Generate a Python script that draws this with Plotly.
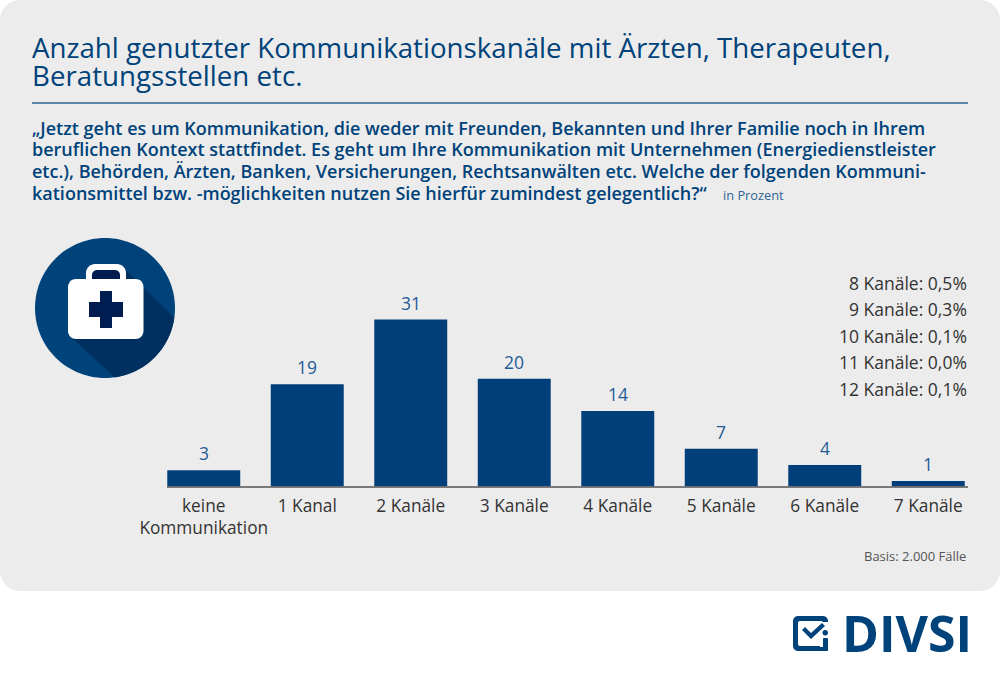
import numpy as np
import plotly.graph_objects as go

W = 1000
H = 674

categories = ["keine<br>Kommunikation", "1 Kanal", "2 Kanäle", "3 Kanäle",
              "4 Kanäle", "5 Kanäle", "6 Kanäle", "7 Kanäle"]
values = [3, 19, 31, 20, 14, 7, 4, 1]

title_lines = ["Anzahl genutzter Kommunikationskanäle mit Ärzten, Therapeuten,",
               "Beratungsstellen etc."]
question_lines = [
    "„Jetzt geht es um Kommunikation, die weder mit Freunden, Bekannten und Ihrer Familie noch in Ihrem",
    "beruflichen Kontext stattfindet. Es geht um Ihre Kommunikation mit Unternehmen (Energiedienstleister",
    "etc.), Behörden, Ärzten, Banken, Versicherungen, Rechtsanwälten etc. Welche der folgenden Kommuni-",
    "kationsmittel bzw. -möglichkeiten nutzen Sie hierfür zumindest gelegentlich?“",
]
side_labels = ["8 Kanäle: 0,5%", "9 Kanäle: 0,3%", "10 Kanäle: 0,1%",
               "11 Kanäle: 0,0%", "12 Kanäle: 0,1%"]

BLUE = "#00427a"
DARK = "#003060"
NAVY = "#001c50"
FONT = "Open Sans"


def px(x):
    return x / W


def py(y):
    return 1 - y / H


def poly(points):
    return "M " + " L ".join(f"{px(x):.5f},{py(y):.5f}" for x, y in points) + " Z"


def round_rect(x0, y0, x1, y1, r):
    pts = []
    for cx, cy, start in [(x1 - r, y0 + r, -90), (x1 - r, y1 - r, 0),
                          (x0 + r, y1 - r, 90), (x0 + r, y0 + r, 180)]:
        for a in np.radians(np.linspace(start, start + 90, 9)):
            pts.append((cx + r * np.cos(a), cy + r * np.sin(a)))
    return pts


def shape(points, color, layer="below"):
    return dict(type="path", xref="paper", yref="paper", path=poly(points),
                fillcolor=color, line_width=0, layer=layer)


def text(x, y, s, size, color=BLUE, anchor="left", weight=400):
    return dict(xref="paper", yref="paper", x=px(x), y=py(y), text=s, showarrow=False,
                xanchor=anchor, yanchor="middle", borderpad=0,
                font=dict(family=FONT, size=size, color=color, weight=weight))


# icon circle and shadow
cx, cy, rad = 105, 308, 70
angles = np.radians(np.linspace(0, 360, 121))
circle = [(cx + rad * np.cos(a), cy + rad * np.sin(a)) for a in angles]
arc = np.radians(np.linspace(8, 82, 40))
shadow = [(126, 270), (143, 287)] + [(cx + rad * np.cos(a), cy + rad * np.sin(a)) for a in arc] + [(72, 338)]

shapes = [
    shape(round_rect(0, 0, W, 591, 20), "#ececec"),
    dict(type="line", xref="paper", yref="paper", x0=px(32), x1=px(968), y0=py(103), y1=py(103),
         line=dict(color="#2f6496", width=1.5), layer="below"),
    dict(type="line", xref="paper", yref="paper", x0=px(167), x1=px(968), y0=py(487), y1=py(487),
         line=dict(color="#555555", width=1.5), layer="above"),
    shape(circle, BLUE),
    shape(shadow, DARK),
    shape(round_rect(86, 264, 126, 290, 9), "#ffffff"),
    shape(round_rect(92, 270, 120, 290, 5), NAVY),
    shape(round_rect(68, 279, 143.5, 339, 8), "#ffffff"),
    shape([(100, 291), (112, 291), (112, 302), (123, 302), (123, 317), (112, 317),
           (112, 328), (100, 328), (100, 317), (89, 317), (89, 302), (100, 302)], NAVY),
    # logo mark
    shape(round_rect(793, 616, 828, 651, 5), BLUE, "above"),
    shape(round_rect(798, 621, 823, 646, 2), "#ffffff", "above"),
    shape([(820, 622), (829, 622), (829, 628), (820, 636)], "#ffffff", "above"),
    shape([(820, 628), (829, 628), (829, 647), (820, 647)], "#ffffff", "above"),
    shape(round_rect(823, 638, 828, 651, 1), BLUE, "above"),
    shape(round_rect(822.5, 630, 828, 635.5, 2.7), BLUE, "above"),
    shape([(802, 630), (805, 627), (811, 633), (822, 623), (825, 626), (811, 639)], BLUE, "above"),
]

annotations = []
for s, y in zip(title_lines, [47, 75]):
    annotations.append(text(31, y, s, 27.7))
for s, y in zip(question_lines, [128, 149.5, 171, 193]):
    annotations.append(text(31, y, s, 18, weight=600))
annotations.append(text(722, 195, "in Prozent", 12.8, "#2f6496"))
for s, y in zip(side_labels, [283, 309.5, 336, 362.5, 389]):
    annotations.append(text(968, y, s, 17.5, "#333333", "right"))
annotations.append(text(967, 556, "Basis: 2.000 Fälle", 13, "#555555", "right"))
annotations.append(text(841, 633, "DIVSI", 50, BLUE, weight=700))
for c, v in zip(categories, values):
    annotations.append(dict(x=c, y=v, text=str(v), showarrow=False, yshift=17,
                            font=dict(family=FONT, size=17.5, color="#1f5c96")))

fig = go.Figure(go.Bar(x=categories, y=values, width=0.705, marker_color="#003f7a",
                       marker_line_width=0))

fig.update_layout(
    width=W,
    height=H,
    margin=dict(l=0, r=0, t=0, b=0),
    paper_bgcolor="#ffffff",
    plot_bgcolor="rgba(0,0,0,0)",
    showlegend=False,
    shapes=shapes,
    annotations=annotations,
    font=dict(family=FONT),
)
fig.update_xaxes(domain=[0.152, 0.98], type="category", showgrid=False, showline=False, ticks="",
                 automargin=False, tickfont=dict(family=FONT, size=17.3, color="#333333"),
                 ticklabelstandoff=7)
fig.update_yaxes(domain=[187.5 / H, 376 / H], range=[0, 35], visible=False, showgrid=False,
                 automargin=False)

fig.write_html("out.html", config={"displayModeBar": False},
               post_script="document.body.style.margin='0';document.body.style.overflow='hidden';")
